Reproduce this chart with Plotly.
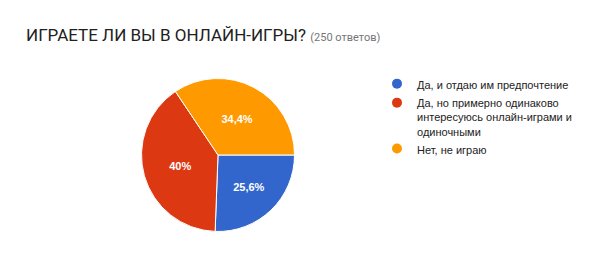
import plotly.graph_objects as go

categories = [
    "Да, и отдаю им предпочтение",
    "Да, но примерно одинаково<br>интересуюсь онлайн-играми и<br>одиночными",
    "Нет, не играю",
]
values = [25.6, 40.0, 34.4]
colors = ["#3366cc", "#dc3912", "#ff9900"]
title_main = "ИГРАЕТЕ ЛИ ВЫ В ОНЛАЙН-ИГРЫ?"
title_sub = "(250 ответов)"

labels_txt = [(f"{v:g}").replace(".", ",") + "%" for v in values]

fig = go.Figure()
fig.add_trace(go.Pie(
    labels=categories, values=values, text=labels_txt,
    textinfo="text", textposition="inside", insidetextorientation="horizontal",
    sort=False, direction="clockwise", rotation=90,
    marker=dict(colors=colors, line=dict(color="white", width=1)),
    textfont=dict(family="Arial, Liberation Sans", size=11, color="white", weight="bold"),
    showlegend=False, hoverinfo="skip",
    domain=dict(x=[(218 - 76.5) / 600, (218 + 76.5) / 600], y=[1 - 231.5 / 265, 1 - 78.5 / 265]),
))
for name, c in zip(categories, colors):
    fig.add_trace(go.Scatter(
        x=[None], y=[None], mode="markers", name=name,
        marker=dict(symbol="circle", size=10, color=c),
    ))

fig.update_layout(
    width=600, height=265,
    margin=dict(l=0, r=0, t=0, b=0),
    paper_bgcolor="white", plot_bgcolor="white",
    xaxis=dict(visible=False), yaxis=dict(visible=False),
    title=dict(
        text=f"{title_main} <span style='font-size:11px;color:#757575'>{title_sub}</span>",
        x=26 / 600, xanchor="left", xref="paper",
        y=1 - 35 / 265, yanchor="middle", yref="paper",
        font=dict(family="Roboto", size=17, color="#212121"),
    ),
    legend=dict(
        x=377 / 600, xanchor="left", y=1 - 70 / 265, yanchor="top",
        font=dict(family="Arial, Liberation Sans", size=11, color="#222222"),
        bgcolor="rgba(0,0,0,0)", tracegroupgap=0, itemwidth=30, valign="top",
    ),
)
fig.write_html("out.html")
